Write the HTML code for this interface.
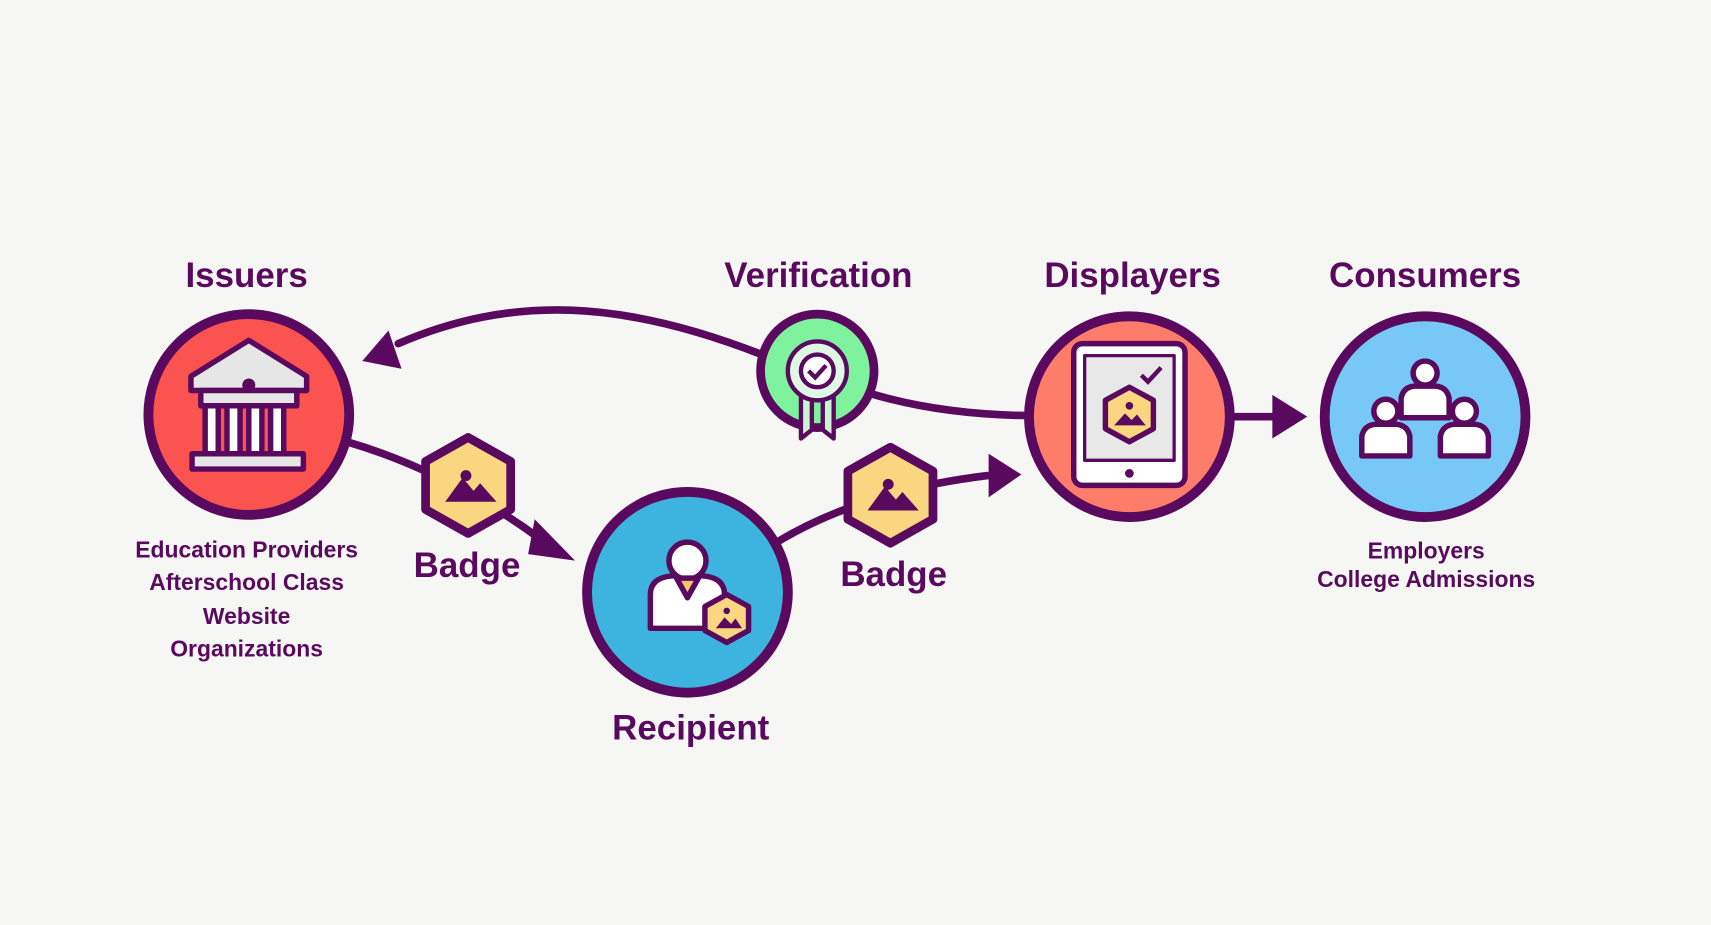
<!DOCTYPE html>
<html><head><meta charset="utf-8"><style>
html,body{margin:0;padding:0;background:#f6f6f4;}
svg{display:block}
text{font-family:"Liberation Sans",sans-serif;font-weight:bold;fill:#5a0a5e;text-anchor:middle}
</style></head><body>
<svg width="1711" height="925" viewBox="0 0 1568 848" preserveAspectRatio="none">
<rect width="1568" height="848" fill="#f6f6f4"/>
<g fill="none" stroke="#5a0a5e" stroke-width="7" stroke-linecap="round">
<path d="M318,405 Q410,432 495,494"/>
<path d="M712,497 Q790,450 905,436"/>
<path d="M942,381 Q860,380 795,360"/>
<path d="M698,325 C570,275 470,270 365,315"/>
<path d="M1130,382 L1170,382"/>
</g>
<g fill="#5a0a5e">
<polygon points="527,514 490,476 484,508"/>
<polygon points="936,435 906,416 906,456"/>
<polygon points="332,331 368,338 356,303"/>
<polygon points="1198,382 1166,362 1166,402"/>
</g>
<!-- circles -->
<g stroke="#5a0a5e" stroke-width="9">
<circle cx="228" cy="380" r="92" fill="#fb5350"/>
<circle cx="630" cy="543" r="92" fill="#3db4df"/>
<circle cx="1035" cy="382" r="92" fill="#fd7d6a"/>
<circle cx="1306" cy="382" r="92" fill="#77c8f6"/>
<circle cx="749" cy="340" r="52" fill="#7ef29c" stroke-width="8"/>
</g>
<!-- issuer building -->
<g stroke="#5a0a5e" stroke-width="5" fill="#e6e6e6" stroke-linejoin="round">
<polygon points="175,345 228,312 281,345 281,358 175,358"/>
<rect x="184" y="358" width="88" height="14"/>
<rect x="188" y="372" width="12" height="44" fill="#fff"/>
<rect x="208" y="372" width="12" height="44" fill="#fff"/>
<rect x="228" y="372" width="12" height="44" fill="#fff"/>
<rect x="248" y="372" width="12" height="44" fill="#fff"/>
<rect x="176" y="416" width="102" height="14"/>
</g>
<circle cx="228" cy="353" r="6" fill="#5a0a5e"/>
<!-- recipient person -->
<g stroke="#5a0a5e" stroke-width="5" stroke-linejoin="round">
<path d="M596,576 L596,545 Q596,530 615,528 L645,528 Q664,530 664,545 L664,576 Z" fill="#fff"/>
<circle cx="630" cy="514" r="17" fill="#fff"/>
<polygon points="620,530 640,530 630,548" fill="#f4c36a"/>
<polygon points="666,545 686,556 686,578 666,589 646,578 646,556" fill="#fbd680"/>
</g>
<polygon points="656,576 664,566 670,572 674,567 680,576" fill="#5a0a5e"/>
<circle cx="666" cy="560" r="3" fill="#5a0a5e"/>
<!-- displayer tablet -->
<g stroke="#5a0a5e" stroke-width="5" stroke-linejoin="round">
<rect x="984" y="315" width="102" height="130" rx="8" fill="#fff"/>
<rect x="994" y="326" width="82" height="96" fill="#e8e8e8" stroke-width="3"/>
<polygon points="1035,355 1057,367 1057,393 1035,405 1013,393 1013,367" fill="#fbd680"/>
</g>
<circle cx="1035" cy="434" r="4" fill="#5a0a5e"/>
<polygon points="1021,390 1031,379 1037,385 1042,380 1050,390" fill="#5a0a5e"/>
<circle cx="1035" cy="372" r="3.5" fill="#5a0a5e"/>
<path d="M1046,344 l6,6 l12,-13" stroke="#5a0a5e" stroke-width="4" fill="none"/>
<!-- consumers -->
<g stroke="#5a0a5e" stroke-width="5" stroke-linejoin="round" fill="#fff">
<path d="M1284,383 L1284,365 Q1286,355 1296,354 L1316,354 Q1326,355 1328,365 L1328,383 Z"/>
<circle cx="1306" cy="342" r="11"/>
<path d="M1248,418 L1248,400 Q1250,390 1260,389 L1280,389 Q1290,390 1292,400 L1292,418 Z"/>
<circle cx="1270" cy="377" r="11"/>
<path d="M1320,418 L1320,400 Q1322,390 1332,389 L1352,389 Q1362,390 1364,400 L1364,418 Z"/>
<circle cx="1342" cy="377" r="11"/>
</g>
<!-- verification rosette -->
<g stroke="#5a0a5e" stroke-width="4" stroke-linejoin="round">
<polygon points="734,360 734,402 744,394 744,360" fill="#c8f5d4"/>
<polygon points="764,360 764,402 754,394 754,360" fill="#c8f5d4"/>
<circle cx="749" cy="340" r="27" fill="#dff8e6"/>
<circle cx="749" cy="340" r="15" fill="#fff"/>
</g>
<path d="M741,340 l6,6 l10,-11" stroke="#5a0a5e" stroke-width="4" fill="none"/>
<!-- badges -->
<g stroke="#5a0a5e" stroke-width="8" stroke-linejoin="round" fill="#fbd680">
<polygon points="429,401 468,423 468,467 429,489 390,467 390,423"/>
<polygon points="816,410 855,432 855,476 816,498 777,476 777,432"/>
</g>
<polygon points="408,460 424,438 434,450 440,443 455,460" fill="#5a0a5e"/>
<circle cx="427" cy="436" r="5" fill="#5a0a5e"/>
<polygon points="795,468 811,446 821,458 827,451 842,468" fill="#5a0a5e"/>
<circle cx="814" cy="444" r="5" fill="#5a0a5e"/>
<!-- text -->
<g font-size="32">
<text x="226" y="263">Issuers</text>
<text x="750" y="263">Verification</text>
<text x="1038" y="263">Displayers</text>
<text x="1306" y="263">Consumers</text>
<text x="633" y="678">Recipient</text>
<text x="428" y="529">Badge</text>
<text x="819" y="537">Badge</text>
</g>
<g font-size="21">
<text x="226" y="511">Education Providers</text>
<text x="226" y="541">Afterschool Class</text>
<text x="226" y="572">Website</text>
<text x="226" y="602">Organizations</text>
<text x="1307" y="512">Employers</text>
<text x="1307" y="538">College Admissions</text>
</g>
</svg>
</body></html>
